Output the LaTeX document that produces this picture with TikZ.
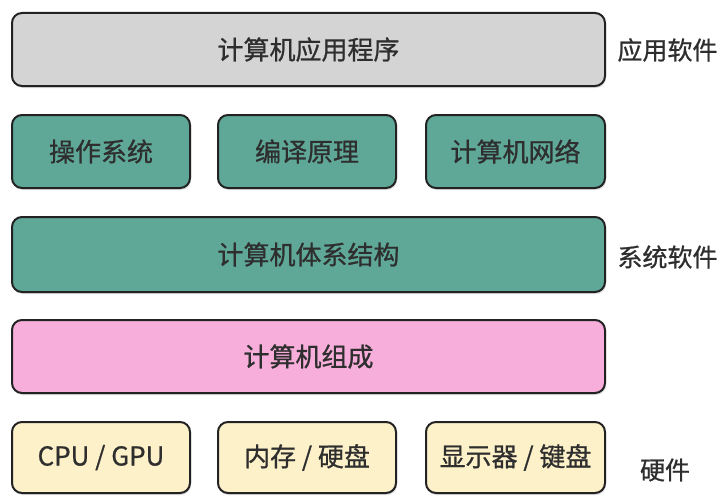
\documentclass[tikz,border=0pt]{standalone}
\usepackage{fontspec}
\setmainfont{Noto Sans CJK SC}
\newfontfamily\boxfont{Noto Sans CJK SC}[FakeBold=0.8]
\usetikzlibrary{shadows}
\definecolor{boxgray}{HTML}{D4D4D4}
\definecolor{boxteal}{HTML}{5FA898}
\definecolor{boxpink}{HTML}{F7AEDB}
\definecolor{boxcream}{HTML}{FDF1C9}
\definecolor{edgecol}{HTML}{222222}
\definecolor{txtcol}{HTML}{2E2E2E}
\tikzset{
  layer/.style={draw=edgecol, line width=2pt, rounded corners=10pt, minimum height=73pt,
    inner sep=0pt, text=txtcol, font=\boxfont\fontsize{26}{30}\selectfont,
    drop shadow={shadow xshift=1pt, shadow yshift=-2pt, opacity=0.25}},
  side/.style={text=txtcol, font=\boxfont\fontsize{25}{29}\selectfont, inner sep=0pt}
}
\begin{document}
\begin{tikzpicture}[x=1pt,y=-1pt]
\useasboundingbox (0,0) rectangle (725,495);
\fill[white] (0,0) rectangle (725,495);
\node[layer, fill=boxgray, minimum width=593pt] (app) at (308.5,49.5) {计算机应用程序};
\node[layer, fill=boxteal, minimum width=178pt] (os) at (101,151.5) {操作系统};
\node[layer, fill=boxteal, minimum width=178pt] (comp) at (307,151.5) {编译原理};
\node[layer, fill=boxteal, minimum width=179pt] (net) at (515.5,151.5) {计算机网络};
\node[layer, fill=boxteal, minimum width=593pt, minimum height=75pt] (arch) at (308.5,254.5) {计算机体系结构};
\node[layer, fill=boxpink, minimum width=593pt] (org) at (308.5,356.5) {计算机组成};
\node[layer, fill=boxcream, minimum width=178pt, minimum height=71pt] (cpu) at (101,457.5) {CPU / GPU};
\node[layer, fill=boxcream, minimum width=178pt, minimum height=71pt] (mem) at (307,457.5) {内存 / 硬盘};
\node[layer, fill=boxcream, minimum width=179pt, minimum height=71pt] (io) at (515.5,457.5) {显示器 / 键盘};
\node[side] (l1) at (667.5,50) {应用软件};
\node[side] (l2) at (667.5,257) {系统软件};
\node[side] (l3) at (665,470) {硬件};
\end{tikzpicture}
\end{document}
